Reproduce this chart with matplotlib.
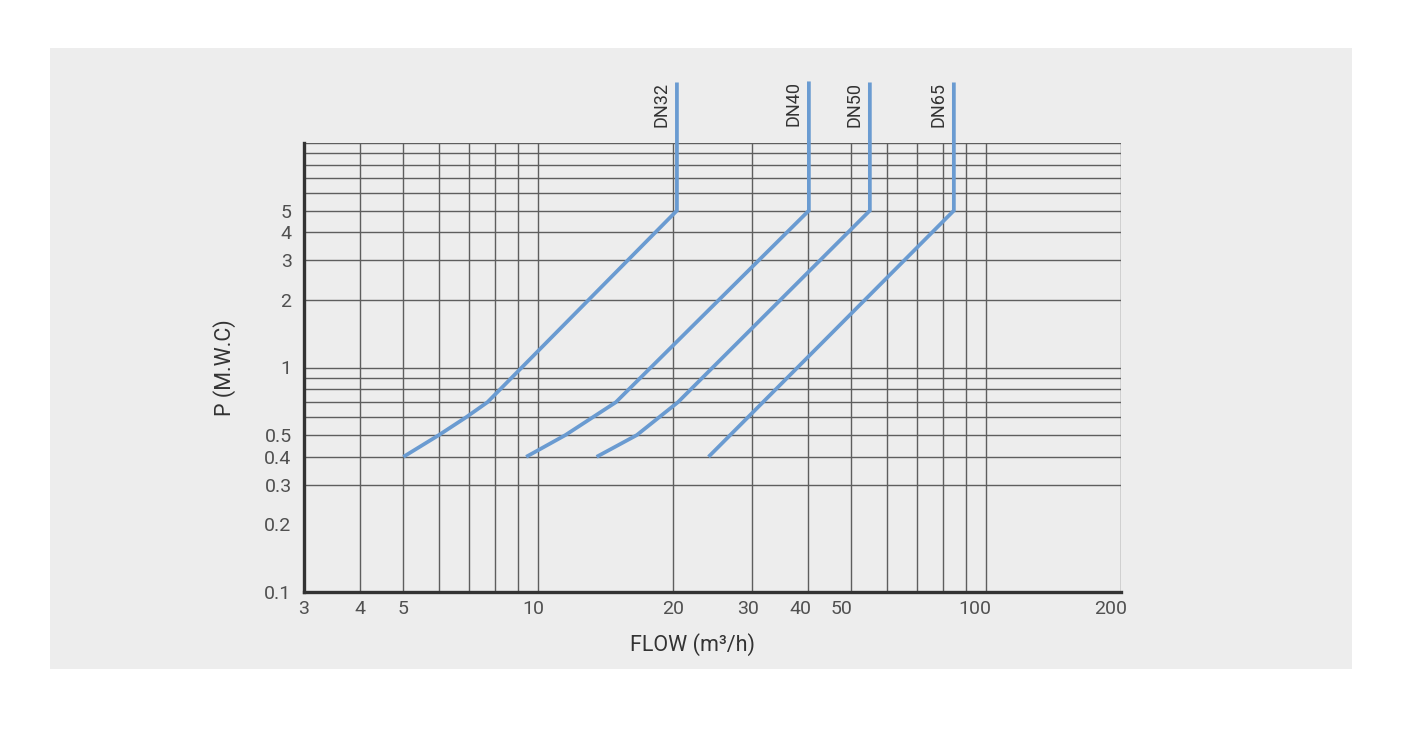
import matplotlib
matplotlib.use("Agg")
import matplotlib.pyplot as plt
from matplotlib.patches import Rectangle
from matplotlib.transforms import offset_copy, ScaledTranslation

plt.rcParams['font.family'] = ['Roboto', 'DejaVu Sans']

# ---- data ----
x_ticks = [3, 4, 5, 10, 20, 30, 40, 50, 100, 200]
x_tick_labels = ["3", "4", "5", "10", "20", "30", "40", "50", "100", "200"]
y_ticks = [0.1, 0.2, 0.3, 0.4, 0.5, 1, 2, 3, 4, 5]
y_tick_labels = ["0.1", "0.2", "0.3", "0.4", "0.5", "1", "2", "3", "4", "5"]
x_grid = [4, 5, 6, 7, 8, 9, 10, 20, 30, 40, 50, 60, 70, 80, 90, 100, 200]
y_grid = [0.3, 0.4, 0.5, 0.6, 0.7, 0.8, 0.9, 1, 2, 3, 4, 5, 6, 7, 8, 9, 10]

series_names = ["DN32", "DN40", "DN50", "DN65"]
dn32_flow = [5.0, 6.0, 6.9, 7.7, 20.4, 20.4]
dn32_p = [0.4, 0.5, 0.6, 0.7, 5.0, 18.6]
dn40_flow = [9.4, 11.5, 14.9, 40.2, 40.2]
dn40_p = [0.4, 0.5, 0.7, 5.0, 18.8]
dn50_flow = [13.5, 16.6, 20.5, 55.0, 55.0]
dn50_p = [0.4, 0.5, 0.7, 5.0, 18.6]
dn65_flow = [24.0, 84.7, 84.7]
dn65_p = [0.4, 5.0, 18.6]

# ---- style ----
panel_color = "#ededed"
grid_color = "#5e5e5e"
line_color = "#6a9bd1"
text_color = "#505050"

fig = plt.figure(figsize=(14.15, 7.31), dpi=100)
fig.patch.set_facecolor("white")
fig.patches.append(Rectangle((50 / 1415, 1 - 669 / 731), 1302 / 1415, 621 / 731,
                             transform=fig.transFigure, facecolor=panel_color,
                             edgecolor="none", zorder=-10))

ax = fig.add_axes([304 / 1415, 1 - 592 / 731, 817 / 1415, 449 / 731])
ax.set_zorder(2)
ax.set_facecolor(panel_color)
ax.set_xscale("log")
ax.set_yscale("log")
ax.set_xlim(3, 200)
ax.set_ylim(0.1, 10)

ax.vlines(x_grid, 0.1, 10, colors=grid_color, linewidth=1.0, zorder=1)
ax.hlines(y_grid, 3, 200, colors=grid_color, linewidth=1.0, zorder=1)

for s in ["top", "right"]:
    ax.spines[s].set_visible(False)
for s in ["left", "bottom"]:
    ax.spines[s].set_linewidth(2.4)
    ax.spines[s].set_color("#333333")
    ax.spines[s].set_zorder(3)

ax.minorticks_off()
ax.set_xticks(x_ticks)
ax.set_xticklabels(x_tick_labels)
ax.set_yticks(y_ticks)
ax.set_yticklabels(y_tick_labels)
ax.tick_params(axis="both", length=0, labelsize=14, labelcolor=text_color)
ax.tick_params(axis="x", pad=6)
ax.tick_params(axis="y", pad=9)

# small horizontal shifts of x tick labels as in the original print
x_label_shift = {"10": -5, "30": -4, "40": -7, "50": -10, "100": -11, "200": -10}
for lab in ax.get_xticklabels():
    dx = x_label_shift.get(lab.get_text(), 0)
    if dx:
        lab.set_transform(lab.get_transform() + ScaledTranslation(dx / 100, 0, fig.dpi_scale_trans))

flows = [dn32_flow, dn40_flow, dn50_flow, dn65_flow]
pressures = [dn32_p, dn40_p, dn50_p, dn65_p]
for name, f, p in zip(series_names, flows, pressures):
    ax.plot(f, p, color=line_color, linewidth=2.7, clip_on=False, zorder=4,
            solid_joinstyle="miter", solid_capstyle="butt")
    tr = offset_copy(ax.transData, fig=fig, x=-6, y=0, units="dots")
    ax.text(f[-1], p[-1], name, transform=tr, rotation=90, ha="right", va="top",
            fontsize=13, color="#333333")

fig.text(692 / 1415, 1 - 645 / 731, "FLOW (m³/h)", ha="center", va="center",
         fontsize=15.5, color="#333333")
fig.text(225 / 1415, 1 - 368 / 731, "P (M.W.C)", ha="center", va="center",
         rotation=90, fontsize=15.5, color="#333333")

fig.savefig("out.png", dpi=100, facecolor="white")
